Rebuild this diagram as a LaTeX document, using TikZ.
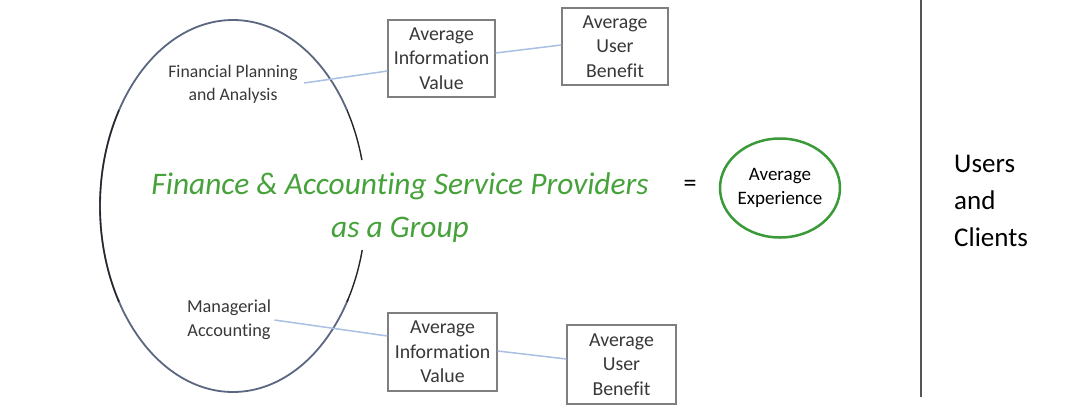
\documentclass[tikz,border=0pt]{standalone}
\usepackage{fontspec}
\setmainfont{Carlito}[Ligatures=NoCommon]
\usetikzlibrary{shapes.geometric}
\definecolor{slate}{HTML}{5B6680}
\definecolor{boxgray}{HTML}{7F7F7F}
\definecolor{textgray}{HTML}{383838}
\definecolor{linkblue}{HTML}{A9BFE3}
\definecolor{grpgreen}{HTML}{46A23A}
\definecolor{circgreen}{HTML}{3A9A3A}
\definecolor{vline}{HTML}{555555}
\begin{document}
\begin{tikzpicture}[x=1pt,y=-1pt]
\tikzset{
  box/.style={draw=boxgray, line width=1.2pt, align=center, inner sep=0pt,
    font=\fontsize{19.8}{24.5}\selectfont, text=textgray},
  link/.style={draw=linkblue, line width=1.5pt},
  ellslate/.style={draw=slate, line width=1.8pt},
  ellblack/.style={draw=black!85, line width=1.4pt},
}
\fill[white] (0,0) rectangle (1086,418);
\useasboundingbox (0,0) rectangle (1086,418);

% big ellipse drawn in segments (y grows downward)
\draw[ellslate, domain=149:329, samples=80, smooth, variable=\t]
  plot ({233+133*cos(\t)},{206+186*sin(\t)});
\draw[ellslate, domain=30:150, samples=60, smooth, variable=\t]
  plot ({233+133*cos(\t)},{206+186*sin(\t)});
\draw[ellblack, domain=-31:-14.3, samples=20, smooth, variable=\t]
  plot ({233+133*cos(\t)},{206+186*sin(\t)});
\draw[ellblack, domain=13.7:31, samples=20, smooth, variable=\t]
  plot ({233+133*cos(\t)},{206+186*sin(\t)});
\draw[ellblack, domain=149:211, samples=40, smooth, variable=\t]
  plot ({233+133*cos(\t)},{206+186*sin(\t)});

% text inside ellipse
\node[font=\fontsize{17.7}{23}\selectfont, text=textgray, align=center]
  (fpa) at (233,84) {Financial Planning\\and Analysis};
\node[font=\fontsize{18.3}{24}\selectfont, text=textgray, align=center]
  (ma) at (229,320) {Managerial\\Accounting};
\node[font=\itshape\fontsize{31.4}{43}\selectfont, text=grpgreen, align=center]
  (grp) at (400,208) {Finance \& Accounting Service Providers\\as a Group};

% boxes
\node[box, minimum width=107pt, minimum height=77pt] (iv1) at (441.5,58.5)
  {Average\\Information\\Value};
\node[box, minimum width=106pt, minimum height=77pt] (ub1) at (615,46.5)
  {Average\\User\\Benefit};
\node[box, minimum width=109pt, minimum height=78pt] (iv2) at (442.5,352)
  {Average\\Information\\Value};
\node[box, minimum width=109pt, minimum height=79pt] (ub2) at (621.5,364.5)
  {Average\\User\\Benefit};

% connectors
\draw[link] ([xshift=3pt,yshift=1pt]fpa.east) -- ([yshift=-12.5pt]iv1.west);
\draw[link] ([yshift=5.5pt]iv1.east) -- ([yshift=1.5pt]ub1.west);
\draw[link] (ma.east) -- ([yshift=16pt]iv2.west);
\draw[link] ([yshift=1pt]iv2.east) -- ([yshift=5.5pt]ub2.west);

% equals and experience
\node[font=\fontsize{26}{30}\selectfont] (eq) at (690,186) {=};
\node[draw=circgreen, line width=2.5pt, ellipse, minimum width=114pt,
  minimum height=99pt, inner sep=0pt, align=center,
  font=\fontsize{19}{24}\selectfont] (exp) at (780,188) {Average\\Experience};

% divider and users
\coordinate (vt) at (921,0);
\coordinate (vb) at (921,397);
\draw[draw=vline, line width=2pt] (vt) -- (vb);
\node[font=\fontsize{27}{37}\selectfont, align=left, anchor=west, inner sep=0pt]
  (uc) at (954,201) {Users\\and\\Clients};
\end{tikzpicture}
\end{document}
